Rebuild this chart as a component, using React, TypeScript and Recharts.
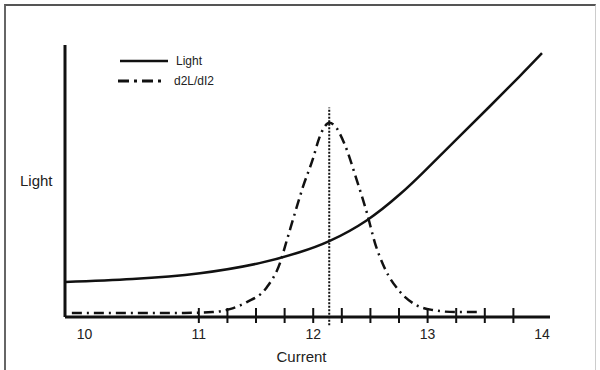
import { Label, Legend, Line, LineChart, ReferenceLine, XAxis, YAxis } from "recharts";

const INK = "#111111";
const FONT = "'Liberation Sans', Arial, sans-serif";

// Light output vs drive current
const lightCurrent = [9.83, 10.42, 11.01, 11.53, 11.88, 12.14, 12.47, 12.76, 12.96, 13.25, 13.54, 13.8, 14.0];
const lightValues = [12.9, 14.0, 16.1, 19.8, 23.8, 27.9, 35.6, 45.2, 53.1, 65.2, 77.3, 88.3, 97.0];

// second derivative d2L/dI2
const d2Current = [9.89, 10.86, 11.12, 11.27, 11.42, 11.59, 11.71, 11.77, 11.84, 11.91, 12.0, 12.05, 12.1, 12.14, 12.19, 12.27, 12.38, 12.47, 12.54, 12.62, 12.76, 12.9, 13.04, 13.25, 13.43];
const d2Values = [1.5, 1.5, 1.8, 2.9, 5.5, 10.7, 19.9, 28.3, 38.2, 47.8, 58.5, 65.5, 70.0, 71.4, 70.2, 64.0, 50.4, 38.2, 27.2, 18.4, 9.2, 4.4, 2.6, 1.8, 1.8];

const thresholdCurrent = 12.14;

const currentTicks = [10, 11, 11.25, 11.5, 11.75, 12, 12.25, 12.5, 12.75, 13, 13.25, 13.5, 13.75, 14];
const labelledTicks = [10, 11, 12, 13, 14];
const markedTicks = [11, 11.25, 11.5, 11.75, 12, 12.25, 12.5, 12.75, 13, 13.25, 13.5, 13.75];

const lightData = lightCurrent.map((c, i) => ({ current: c, light: lightValues[i] }));
const d2Data = d2Current.map((c, i) => ({ current: c, d2: d2Values[i] }));

function CurrentTick({ x, y, payload }: { x: number; y: number; payload: { value: number } }) {
  const v = payload.value;
  return (
    <g>
      {markedTicks.includes(v) && (
        <line x1={x} x2={x} y1={y - 9} y2={y + 6} stroke={INK} strokeWidth={2} />
      )}
      {labelledTicks.includes(v) && (
        <text x={x} y={y + 22} textAnchor="middle" fontSize={14} fontFamily={FONT} fill="#222">
          {v}
        </text>
      )}
    </g>
  );
}

function LegendBox() {
  return (
    <svg width={120} height={44} style={{ display: "block" }}>
      <line x1={10} x2={58} y1={11} y2={11} stroke={INK} strokeWidth={2.5} />
      <text x={66} y={15} fontSize={12} fontFamily={FONT} fill="#222">Light</text>
      <line x1={8} x2={55} y1={31} y2={31} stroke={INK} strokeWidth={3} strokeDasharray="11 5 3 5" />
      <text x={64} y={35} fontSize={12} fontFamily={FONT} fill="#222">d2L/dI2</text>
    </svg>
  );
}

export default function App() {
  return (
    <div style={{ position: "absolute", left: 0, top: 0, width: 600, height: 370, background: "#fff" }}>
      <div
        style={{
          position: "absolute",
          left: 4,
          top: 4,
          width: 592,
          height: 366,
          borderTop: "2px solid #555",
          borderLeft: "2px solid #666",
          borderRight: "1px solid #ccc",
          boxSizing: "border-box",
        }}
      />
      <div style={{ position: "absolute", left: 0, top: 0 }}>
        <LineChart width={600} height={370} margin={{ top: 45, right: 50, left: 10, bottom: 0 }}>
          <XAxis
            type="number"
            dataKey="current"
            domain={[9.83, 14.07]}
            ticks={currentTicks}
            interval={0}
            allowDataOverflow
            height={53}
            tickSize={0}
            tickMargin={0}
            tickLine={false}
            axisLine={{ stroke: INK, strokeWidth: 3 }}
            tick={(p: any) => <CurrentTick {...p} />}
          >
            <Label value="Current" position="insideBottom" offset={8} dx={-6} fontSize={15} fontFamily={FONT} fill="#222" />
          </XAxis>
          <YAxis
            type="number"
            domain={[0, 100]}
            width={55}
            tick={false}
            tickLine={false}
            axisLine={{ stroke: INK, strokeWidth: 3 }}
          >
            <Label value="Light" position="insideLeft" offset={10} fontSize={15} fontFamily={FONT} fill="#222" />
          </YAxis>
          <Legend
            layout="vertical"
            align="center"
            verticalAlign="middle"
            wrapperStyle={{ left: 110, top: 50, width: 120 }}
            content={() => <LegendBox />}
          />
          <ReferenceLine
            segment={[
              { x: thresholdCurrent, y: -3 },
              { x: thresholdCurrent, y: 77 },
            ]}
            ifOverflow="visible"
            stroke={INK}
            strokeWidth={2}
            strokeDasharray="2 1.5"
          />
          <Line
            data={d2Data}
            dataKey="d2"
            type="monotone"
            stroke={INK}
            strokeWidth={2.5}
            strokeDasharray="10 5 2 5"
            dot={false}
            isAnimationActive={false}
          />
          <Line
            data={lightData}
            dataKey="light"
            type="natural"
            stroke={INK}
            strokeWidth={2.5}
            dot={false}
            isAnimationActive={false}
          />
        </LineChart>
      </div>
    </div>
  );
}
